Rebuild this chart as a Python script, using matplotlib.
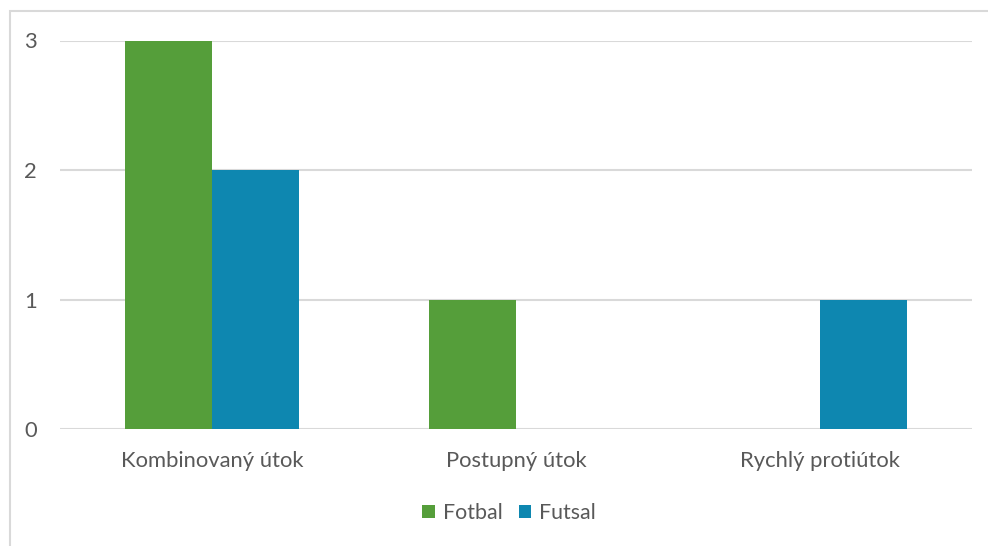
import matplotlib
matplotlib.use("Agg")
import matplotlib.pyplot as plt
from matplotlib.patches import Rectangle
import numpy as np

categories = ["Kombinovaný útok", "Postupný útok", "Rychlý protiútok"]
series_names = ["Fotbal", "Futsal"]
fotbal = [3, 1, 0]
futsal = [2, 0, 1]
y_ticks = [0, 1, 2, 3]

plt.rcParams['font.family'] = ['Lato', 'DejaVu Sans']
W, H = 988, 546
fig = plt.figure(figsize=(W/100, H/100), dpi=100)
fig.patch.set_facecolor('white')

# chart border (extends past right/bottom edges)
fig.patches.append(Rectangle((9.5/W, -0.1), 1.2, 1.1 - 11.5/H, transform=fig.transFigure,
                             fill=False, edgecolor='#d9d9d9', linewidth=1.5))

ax = fig.add_axes([60/W, 1 - 429/H, 912/W, (429 - 40.5)/H])
x = np.arange(len(categories))
bw = 0.286
ax.bar(x - bw/2, fotbal, bw, color='#559E3A', label=series_names[0], zorder=3)
ax.bar(x + bw/2, futsal, bw, color='#0E87B0', label=series_names[1], zorder=3)

ax.set_xlim(-0.5, 2.5)
ax.set_ylim(0, 3)
ax.set_yticks(y_ticks)
ax.set_yticklabels([str(v) for v in y_ticks])
ax.yaxis.grid(True, color='#d9d9d9', linewidth=1.5, zorder=0)
ax.set_xticks(x)
ax.set_xticklabels(categories)
for s in ax.spines.values():
    s.set_visible(False)
ax.tick_params(axis='both', length=0, labelsize=15.8, colors='#595959')
ax.tick_params(axis='y', pad=16.5)
ax.tick_params(axis='x', pad=16)

leg = fig.legend(loc='center', bbox_to_anchor=(509/W, 1 - 513/H), ncol=2, frameon=False,
                 fontsize=15.4, handlelength=0.6, handleheight=0.6, handletextpad=0.35,
                 columnspacing=0.75)
for t in leg.get_texts():
    t.set_color('#595959')

fig.savefig("out.png", dpi=100, facecolor='white')
